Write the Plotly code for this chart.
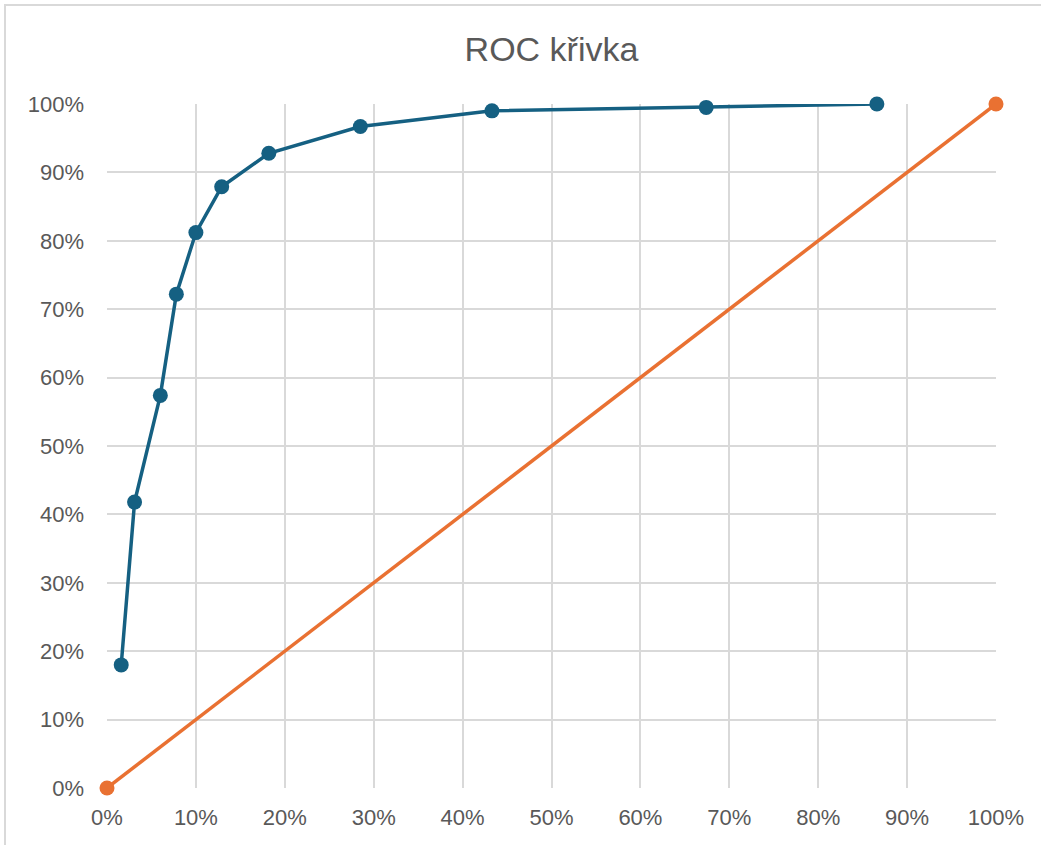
import plotly.graph_objects as go

fpr = [1.6, 3.1, 6.0, 7.8, 10.0, 12.9, 18.2, 28.5, 43.3, 67.4, 86.6]
tpr = [18.0, 41.8, 57.4, 72.2, 81.2, 87.9, 92.8, 96.7, 99.0, 99.5, 100.0]
diag_x = [0, 100]
diag_y = [0, 100]
tick_vals = list(range(0, 101, 10))
tick_text = [f"{v}%" for v in tick_vals]

BLUE = "#156082"
ORANGE = "#E97132"
TXT = "#595959"
FONT = "Liberation Sans, Arial, sans-serif"

fig = go.Figure()
fig.add_trace(go.Scatter(x=diag_x, y=diag_y, mode="lines+markers",
                         line=dict(color=ORANGE, width=3.5),
                         marker=dict(color=ORANGE, size=15), showlegend=False,
                         cliponaxis=False))
fig.add_trace(go.Scatter(x=fpr, y=tpr, mode="lines+markers",
                         line=dict(color=BLUE, width=3.5),
                         marker=dict(color=BLUE, size=15), showlegend=False,
                         cliponaxis=False))

axis_common = dict(range=[0, 100], tickvals=tick_vals, ticktext=tick_text,
                   showgrid=True, gridcolor="#D9D9D9", gridwidth=2,
                   zeroline=False, showline=False, ticks="",
                   tickfont=dict(family=FONT, size=22, color=TXT))

fig.update_xaxes(**axis_common, ticklabelstandoff=14)
fig.update_yaxes(**axis_common, ticklabelstandoff=22)

L, T = 107, 104
PW, PH = 889, 684
W, H = 1041, 845
fig.update_layout(
    width=W, height=H,
    margin=dict(l=L, r=W - L - PW, t=T, b=H - T - PH),
    paper_bgcolor="white", plot_bgcolor="white",
    title=dict(text="ROC křivka", x=(L + PW / 2) / W, xanchor="center",
               y=1 - 49 / H, yanchor="middle",
               font=dict(family=FONT, size=34, color=TXT)),
    shapes=[dict(type="rect", xref="paper", yref="paper",
                 x0=-(L - 5) / PW, x1=1 + (W - L - PW + 20) / PW,
                 y0=-(H - T - PH + 20) / PH, y1=1 + (T - 5) / PH,
                 line=dict(color="#D9D9D9", width=2),
                 fillcolor="rgba(0,0,0,0)", layer="above")],
)

fig.write_html("out.html", config={"displayModeBar": False},
               post_script="document.body.style.margin='0';document.body.style.overflow='hidden';")
